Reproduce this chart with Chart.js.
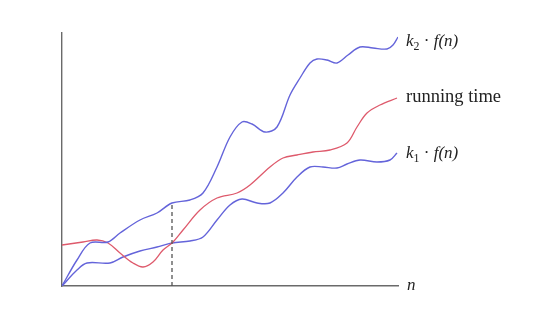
<!DOCTYPE html>
<html>
<head>
<meta charset="utf-8">
<script src="https://cdn.jsdelivr.net/npm/chart.js@4"></script>
<style>
html,body{margin:0;padding:0;background:#fff;}
#c{display:block;}
</style>
</head>
<body>
<canvas id="c" width="548" height="328"></canvas>
<script>
// Upper bound k2·f(n)
const k2N    = [0,15,28,46,58,78,95,110,128,141,155,168,180,190,203,215,228,238,248,255,265,275,286,298,311,325,331,336];
const k2Vals = [0,26,43,44,53,66,73,83,86,93,119,149,164,162,154,159,191,208,223,227,226,223,231,239,238,237,241,249];
// running time
const rtN    = [0,21,35,46,58,71,81,91,101,110,121,138,155,175,188,208,221,235,251,268,285,295,305,318,335];
const rtVals = [41,44,46,43,33,23,19,24,36,43,56,76,88,93,101,119,128,131,134,136,143,159,173,181,188];
// lower bound k1·f(n)
const k1N    = [0,15,25,48,61,78,95,110,128,141,155,168,180,195,208,221,235,248,261,275,285,298,315,328,335];
const k1Vals = [0,16,23,23,29,35,39,43,45,49,66,81,87,83,83,93,109,119,119,118,122,126,124,126,133];
// crossing point n0
const n0 = 110;
const labels = ['running time'];

const pts = (xs, ys) => xs.map((x, i) => ({x, y: ys[i]}));
const BLUE = '#6464da', RED = '#de5a6c', AXIS = '#6a6a6a';

const labelPlugin = {
  id: 'labelsAndGuide',
  afterDatasetsDraw(chart) {
    const {ctx, scales: {x, y}} = chart;
    ctx.save();
    // dashed guide at n0
    ctx.strokeStyle = '#555';
    ctx.lineWidth = 1.3;
    ctx.setLineDash([4, 3]);
    ctx.beginPath();
    ctx.moveTo(x.getPixelForValue(n0), y.getPixelForValue(0));
    ctx.lineTo(x.getPixelForValue(n0), y.getPixelForValue(k2Vals[k2N.indexOf(n0)]));
    ctx.stroke();
    ctx.setLineDash([]);
    ctx.fillStyle = '#222';
    ctx.textBaseline = 'alphabetic';
    const fs = 17;
    const drawK = (sub, bx, by) => {
      let cx = bx;
      ctx.font = 'italic ' + fs + 'px "Liberation Serif"';
      ctx.fillText('k', cx, by); cx += ctx.measureText('k').width;
      ctx.font = (fs * 0.7) + 'px "Liberation Serif"';
      ctx.fillText(sub, cx, by + 4); cx += ctx.measureText(sub).width;
      ctx.font = fs + 'px "Liberation Serif"';
      ctx.fillText(' \u00b7 ', cx, by); cx += ctx.measureText(' \u00b7 ').width;
      ctx.font = 'italic ' + fs + 'px "Liberation Serif"';
      ctx.fillText('f(n)', cx, by);
    };
    const lx = 406;
    drawK('2', lx, 46);
    ctx.font = '18.5px "Liberation Serif"';
    ctx.fillText(labels[0], lx, 102);
    drawK('1', lx, 158);
    ctx.font = 'italic ' + fs + 'px "Liberation Serif"';
    ctx.fillText('n', 407, 290);
    ctx.restore();
  }
};

new Chart(document.getElementById('c'), {
  type: 'line',
  data: {
    datasets: [
      {data: pts(k2N, k2Vals), borderColor: BLUE, borderWidth: 1.4, tension: 0.35, pointRadius: 0},
      {data: pts(rtN, rtVals), borderColor: RED, borderWidth: 1.3, tension: 0.35, pointRadius: 0},
      {data: pts(k1N, k1Vals), borderColor: BLUE, borderWidth: 1.4, tension: 0.35, pointRadius: 0}
    ]
  },
  options: {
    responsive: false,
    animation: false,
    layout: {padding: {left: 62, right: 150, top: 33, bottom: 42}},
    plugins: {legend: {display: false}, tooltip: {enabled: false}},
    scales: {
      x: {type: 'linear', min: 0, max: 336,
          grid: {display: false}, ticks: {display: false},
          border: {display: true, color: AXIS, width: 1.4},
          afterFit: s => { s.height = 0; }},
      y: {type: 'linear', min: 0, max: 253,
          grid: {display: false}, ticks: {display: false},
          border: {display: true, color: AXIS, width: 1.4},
          afterFit: s => { s.width = 0; }}
    }
  },
  plugins: [labelPlugin]
});
</script>
</body>
</html>
